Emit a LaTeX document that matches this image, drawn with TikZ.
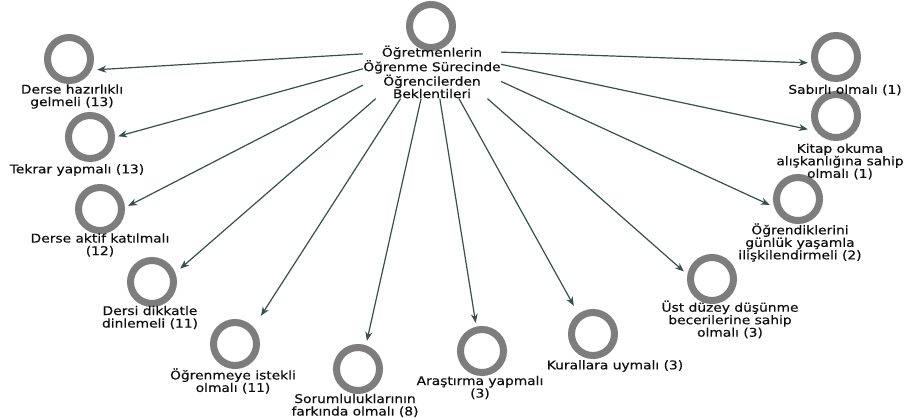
\documentclass[tikz,border=0pt]{standalone}
\usepackage{fontspec}
\setmainfont{DejaVu Sans}[FakeStretch=1.15,FakeBold=0.35]
\usetikzlibrary{arrows.meta,fit}
\definecolor{ringgray}{RGB}{125,125,125}
\definecolor{arrowc}{RGB}{55,80,78}
\definecolor{txt}{RGB}{15,15,15}
\tikzset{
 ring/.style={circle,draw=ringgray,line width=7bp,minimum size=43bp,inner sep=0pt},
 lbl/.style={align=center,inner sep=0pt,text=txt,font=\fontsize{12bp}{12.5bp}\selectfont},
 grp/.style={inner sep=3bp,draw=none},
 link/.style={draw=arrowc,line width=1.2bp,-{Stealth[length=9bp,width=7bp]}}
}
\begin{document}
\begin{tikzpicture}[x=1bp,y=-1bp]
\useasboundingbox[fill=white] (0,0) rectangle (906,417);
% centre
\node[ring] (cC) at (431,26) {};
\node[lbl] (tC) at (432,72) {Öğretmenlerin\\Öğrenme Sürecinde\\Öğrencilerden\\Beklentileri};
\node[inner sep=0pt,fit=(cC)(tC)] (C) {};
% targets
\node[ring] (cA) at (69,59) {};
\node[lbl] (tA) at (72,96.5) {Derse hazırlıklı\\gelmeli (13)};
\node[grp,fit=(cA)(cA.center |- tA.south)] (A) {};

\node[ring] (cB) at (90,137) {};
\node[lbl] (tB) at (77,170) {Tekrar yapmalı (13)};
\node[grp,fit=(cB)(cB.center |- tB.south)] (B) {};

\node[ring] (cD) at (100,209) {};
\node[lbl] (tD) at (100,245) {Derse aktif katılmalı\\(12)};
\node[grp,fit=(cD)(cD.center |- tD.south)] (D) {};

\node[ring] (cE) at (152,282) {};
\node[lbl] (tE) at (150,317.5) {Dersi dikkatle\\dinlemeli (11)};
\node[grp,fit=(cE)(cE.center |- tE.south)] (E) {};

\node[ring] (cF) at (235,344) {};
\node[lbl] (tF) at (233,381) {Öğrenmeye istekli\\olmalı (11)};
\node[grp,fit=(cF)(cF.center |- tF.south)] (F) {};

\node[ring] (cG) at (358,369) {};
\node[lbl] (tG) at (355,405.5) {Sorumluluklarının\\farkında olmalı (8)};
\node[grp,fit=(cG)(cG.center |- tG.south)] (G) {};

\node[ring] (cH) at (482,351) {};
\node[lbl] (tH) at (480,387.5) {Araştırma yapmalı\\(3)};
\node[grp,fit=(cH)(cH.center |- tH.south)] (H) {};

\node[ring] (cI) at (593,334) {};
\node[lbl] (tI) at (615,366) {Kurallara uymalı (3)};
\node[grp,fit=(cI)(cI.center |- tI.south)] (I) {};

\node[ring] (cJ) at (712,279) {};
\node[lbl] (tJ) at (730,319.5) {Üst düzey düşünme\\becerilerine sahip\\olmalı (3)};
\node[grp,fit=(cJ)(cJ.center |- tJ.south)] (J) {};

\node[ring] (cK) at (798,199) {};
\node[lbl] (tK) at (800,242.5) {Öğrendiklerini\\günlük yaşamla\\ilişkilendirmeli (2)};
\node[grp,fit=(cK)(cK.center |- tK.south)] (K) {};

\node[ring] (cL) at (836,116) {};
\node[lbl] (tL) at (840,161.5) {Kitap okuma\\alışkanlığına sahip\\olmalı (1)};
\node[grp,fit=(cL)(cL.center |- tL.south)] (L) {};

\node[ring] (cM) at (836,57) {};
\node[lbl] (tM) at (845,90) {Sabırlı olmalı (1)};
\node[grp,fit=(cM)(cM.center |- tM.south)] (M) {};

\foreach \t in {A,B,D,E,F,G,H,I,J,K,L,M}
  \draw[link] (C) -- (\t);
\end{tikzpicture}
\end{document}
